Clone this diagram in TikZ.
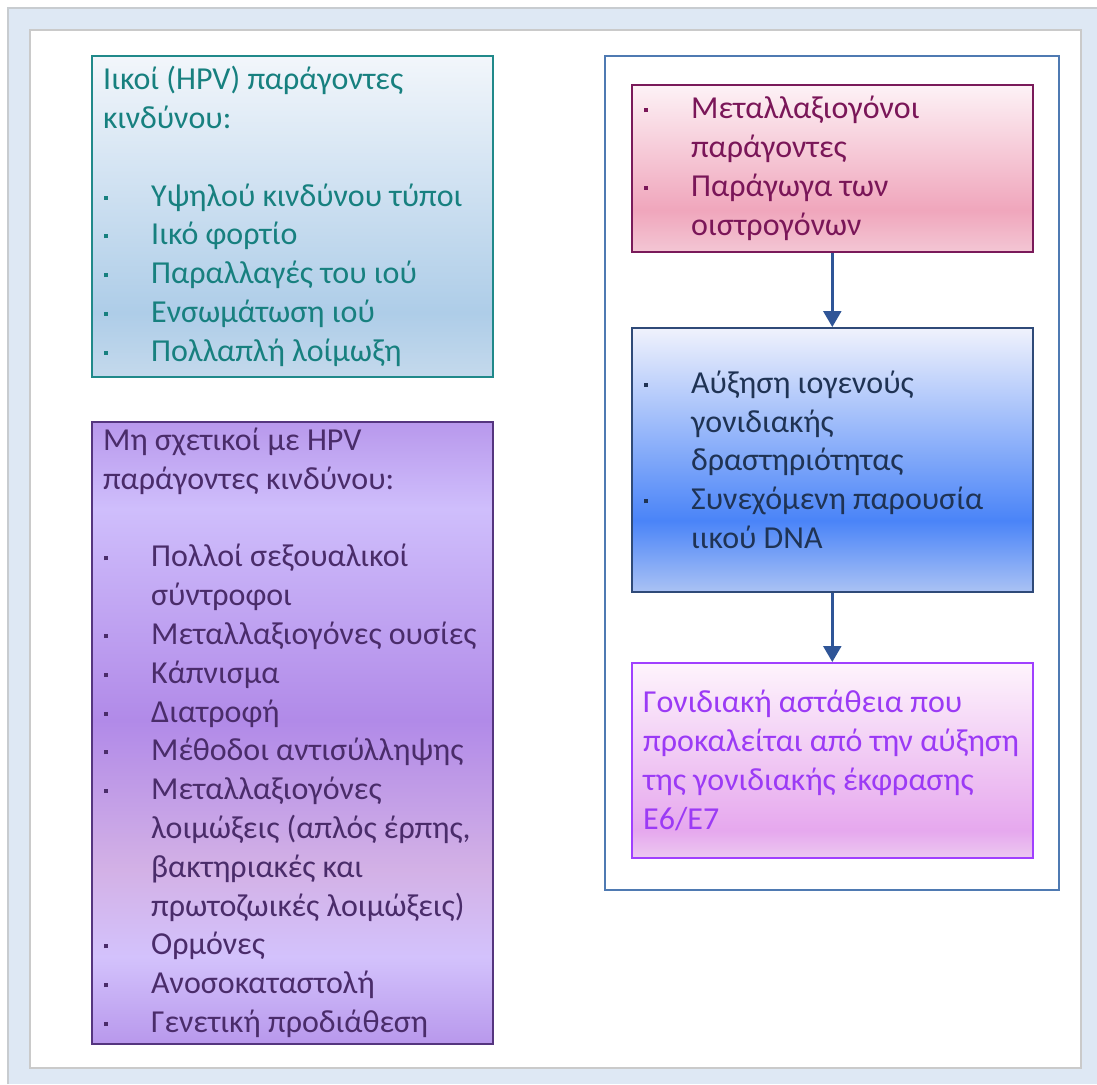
\documentclass[tikz,border=0pt]{standalone}
\usepackage{fontspec}
\setmainfont{Carlito}
\usetikzlibrary{arrows.meta}

% frame colours
\definecolor{outerbg}{HTML}{DEE8F4}
\definecolor{framegray}{HTML}{C8CCD0}
\definecolor{panelgray}{HTML}{CACACA}
\definecolor{groupblue}{HTML}{4F7AB2}
\definecolor{arrowc}{HTML}{2F5597}

% box borders and texts
\definecolor{tealline}{HTML}{20898A}
\definecolor{tealtxt}{HTML}{17807F}
\definecolor{purpline}{HTML}{55357F}
\definecolor{purptxt}{HTML}{4A2C6A}
\definecolor{pinkline}{HTML}{7A1A5A}
\definecolor{pinktxt}{HTML}{7A1658}
\definecolor{blueline}{HTML}{2F4A78}
\definecolor{bluetxt}{HTML}{1F3354}
\definecolor{violine}{HTML}{A040FF}
\definecolor{viotxt}{HTML}{9B3AF5}

% gradient stops
\definecolor{tealA}{HTML}{F2F6FB}
\definecolor{tealB}{HTML}{AECDE8}
\definecolor{tealC}{HTML}{C4D9EC}
\definecolor{purA}{HTML}{B898EC}
\definecolor{purB}{HTML}{CFBEFC}
\definecolor{purC}{HTML}{B18AE8}
\definecolor{purD}{HTML}{D3B1E6}
\definecolor{purE}{HTML}{D3C2FC}
\definecolor{pinkA}{HTML}{FDF2F6}
\definecolor{pinkB}{HTML}{F0A6BC}
\definecolor{pinkC}{HTML}{F3C6D4}
\definecolor{blueA}{HTML}{F0F2FC}
\definecolor{blueB}{HTML}{4A84F8}
\definecolor{blueC}{HTML}{AAC2F4}
\definecolor{vioA}{HTML}{FEF4FC}
\definecolor{vioB}{HTML}{E6A8EE}
\definecolor{vioC}{HTML}{ECC8F0}

% the box height maps onto 25bp (bottom) .. 75bp (top)
\pgfdeclareverticalshading{tealsh}{100bp}{color(0bp)=(tealC); color(25bp)=(tealC); color(35bp)=(tealB); color(75bp)=(tealA); color(100bp)=(tealA)}
\pgfdeclareverticalshading{purpsh}{100bp}{color(0bp)=(purA); color(25bp)=(purA); color(32bp)=(purE); color(39bp)=(purD); color(51bp)=(purC); color(68bp)=(purB); color(75bp)=(purA); color(100bp)=(purA)}
\pgfdeclareverticalshading{pinksh}{100bp}{color(0bp)=(pinkC); color(25bp)=(pinkC); color(37.5bp)=(pinkB); color(75bp)=(pinkA); color(100bp)=(pinkA)}
\pgfdeclareverticalshading{bluesh}{100bp}{color(0bp)=(blueC); color(25bp)=(blueC); color(38.5bp)=(blueB); color(75bp)=(blueA); color(100bp)=(blueA)}
\pgfdeclareverticalshading{viosh}{100bp}{color(0bp)=(vioC); color(25bp)=(vioC); color(32bp)=(vioB); color(75bp)=(vioA); color(100bp)=(vioA)}

% square bullet and hanging indent
\newcommand\bu{\makebox[48pt][l]{\hspace{1pt}\raisebox{6.5pt}{\rule{4pt}{4pt}}}}
\newcommand\ind{\hspace*{48pt}}

\begin{document}
\begin{tikzpicture}[x=1pt,y=-1pt,
  box/.style={rectangle, anchor=north west, inner sep=0pt, line width=1.6pt,
              minimum width=401pt},
  txt/.style={anchor=west, inner sep=0pt, align=left,
              font=\fontsize{32}{38.8}\selectfont},
  flow/.style={draw=arrowc, line width=2.4pt, -{Triangle[width=18pt,length=16pt]}}
]
\useasboundingbox (0,0) rectangle (1097,1084);

% background frame and white panel
\fill[outerbg] (8,8) rectangle (1097,1084);
\draw[framegray, line width=1.5pt] (8,1084) -- (8,8) -- (1097,8);
\draw[fill=white, draw=panelgray, line width=1.5pt] (30,30) rectangle (1081,1068);

% left column
\node[box, draw=tealline, shading=tealsh, minimum height=321pt] (viral) at (91,55) {};
\node[txt, text=tealtxt] (viraltext) at ([xshift=12pt]viral.west)
  {Ιικοί (HPV) παράγοντες\\
   κινδύνου:\\
   \mbox{}\\
   \bu Υψηλού κινδύνου τύποι\\
   \bu Ιικό φορτίο\\
   \bu Παραλλαγές του ιού\\
   \bu Ενσωμάτωση ιού\\
   \bu Πολλαπλή λοίμωξη};

\node[box, draw=purpline, shading=purpsh, minimum height=622pt] (other) at (91,421) {};
\node[txt, text=purptxt] (othertext) at ([xshift=12pt]other.west)
  {Μη σχετικοί με HPV\\
   παράγοντες κινδύνου:\\
   \mbox{}\\
   \bu Πολλοί σεξουαλικοί\\
   \ind σύντροφοι\\
   \bu Μεταλλαξιογόνες ουσίες\\
   \bu Κάπνισμα\\
   \bu Διατροφή\\
   \bu Μέθοδοι αντισύλληψης\\
   \bu Μεταλλαξιογόνες\\
   \ind λοιμώξεις (απλός έρπης,\\
   \ind βακτηριακές και\\
   \ind πρωτοζωικές λοιμώξεις)\\
   \bu Ορμόνες\\
   \bu Ανοσοκαταστολή\\
   \bu Γενετική προδιάθεση};

% right column: group frame and flow
\node[rectangle, anchor=north west, inner sep=0pt, draw=groupblue, line width=2pt,
      minimum width=454pt, minimum height=834pt] (group) at (604,55) {};

\node[box, draw=pinkline, shading=pinksh, minimum height=167pt] (mutagen) at (631,84) {};
\node[txt, text=pinktxt] (mutagentext) at ([xshift=12pt]mutagen.west)
  {\bu Μεταλλαξιογόνοι\\
   \ind παράγοντες\\
   \bu Παράγωγα των\\
   \ind οιστρογόνων};

\node[box, draw=blueline, shading=bluesh, minimum height=264pt] (activity) at (631,327) {};
\node[txt, text=bluetxt] (activitytext) at ([xshift=12pt]activity.west)
  {\bu Αύξηση ιογενούς\\
   \ind γονιδιακής\\
   \ind δραστηριότητας\\
   \bu Συνεχόμενη παρουσία\\
   \ind ιικού DNA};

\node[box, draw=violine, shading=viosh, minimum height=195pt] (instab) at (631,662) {};
\node[txt, text=viotxt] (instabtext) at ([xshift=12pt]instab.west)
  {Γονιδιακή αστάθεια που\\
   προκαλείται από την αύξηση\\
   της γονιδιακής έκφρασης\\
   E6/E7};

\draw[flow] (mutagen.south) -- (activity.north);
\draw[flow] (activity.south) -- (instab.north);
\end{tikzpicture}
\end{document}
